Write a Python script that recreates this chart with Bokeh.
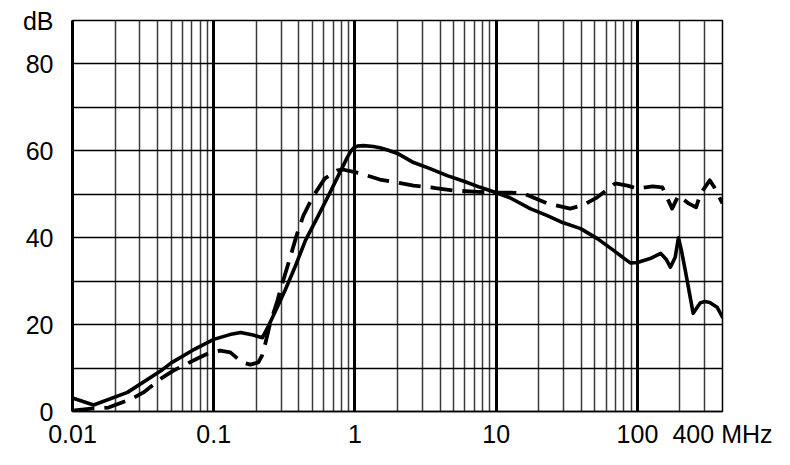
from bokeh.plotting import figure
from bokeh.models import FixedTicker, Grid, CustomJSTickFormatter, Range1d
from bokeh.embed import file_html
from bokeh.resources import INLINE

# ---- data ----
solid_f = [0.01, 0.0141, 0.0245, 0.042, 0.05, 0.07, 0.1, 0.13, 0.155, 0.19, 0.221,
           0.245, 0.28, 0.32, 0.38, 0.446, 0.542, 0.649, 0.762, 0.883, 0.93, 0.98, 1.04, 1.15, 1.35,
           1.5, 1.7, 2.0, 2.6, 3.4, 4.5, 5.9, 7.7, 9.9, 12.5, 17.4, 23, 29.5, 39.6, 52,
           67, 80, 89, 100, 123, 146, 160, 171, 185, 195, 205, 218, 248, 265, 278, 300, 325, 366, 400]
solid_db = [3.1, 1.5, 4.4, 9.3, 11.2, 14.0, 16.6, 17.7, 18.2, 17.6, 17.0,
            19.8, 23.8, 27.9, 33.6, 39.4, 44.7, 49.7, 54.3, 58.5, 59.8, 60.7, 61.1, 61.2, 61.0,
            60.7, 60.2, 59.4, 57.3, 55.9, 54.3, 53.0, 51.6, 50.4, 49.2, 46.7, 45.1, 43.5, 42.1, 39.8,
            37.2, 35.3, 34.2, 34.3, 35.2, 36.4, 35.0, 33.2, 35.5, 40.0, 37.0, 32.5, 22.6, 24.0, 25.0, 25.3, 25.1, 24.0, 21.7]

dash_f = [0.01, 0.0141, 0.018, 0.0266, 0.0318, 0.0433, 0.0518, 0.0766, 0.0917, 0.111,
          0.131, 0.159, 0.182, 0.207, 0.22, 0.232, 0.251, 0.283, 0.296, 0.337, 0.39,
          0.43, 0.50, 0.61, 0.75, 0.82, 1.09, 1.5, 2.0, 2.6, 3.6, 4.9, 6.9, 9.6, 12.5,
          15.6, 23, 33.4, 41.3, 51.9, 69.6, 85, 100, 128, 150, 176, 195, 230, 260, 280,
          325, 350, 400]
dash_db = [0.2, 0.7, 0.9, 3.0, 4.4, 7.8, 9.4, 12.2, 13.4, 14.0,
           13.6, 11.3, 10.8, 11.3, 12.9, 15.7, 20.3, 25.6, 27.9, 34.0, 41.0,
           45.0, 49.3, 53.6, 55.5, 55.7, 54.8, 53.4, 52.7, 52.0, 51.5, 50.9, 50.6, 50.4, 50.4,
           50.2, 47.9, 46.7, 47.5, 49.3, 52.5, 52.0, 51.3, 51.8, 51.6, 46.7, 49.7, 47.9, 47.0, 50.2,
           53.2, 51.6, 47.9]

x_ticks = [0.01, 0.1, 1, 10, 100, 400]
x_tick_labels = ["0.01", "0.1", "1", "10", "100", "400 MHz"]
y_ticks = [0, 20, 40, 60, 80, 90]
y_tick_labels = ["0", "20", "40", "60", "80", "dB"]
x_major_grid = [0.1, 1, 10, 100]
x_minor_grid = [m * d for d in (0.01, 0.1, 1, 10) for m in range(2, 10)] + [200, 300, 400]
y_grid = [10, 20, 30, 40, 50, 60, 70, 80, 90]

FONT = "Liberation Sans"

p = figure(width=790, height=465, x_axis_type="log",
           x_range=Range1d(0.01, 400), y_range=Range1d(0, 90),
           output_backend="svg", toolbar_location=None,
           min_border_left=72, min_border_right=68, min_border_top=20, min_border_bottom=54)
p.outline_line_color = "black"
p.outline_line_width = 1.5
p.xgrid.visible = False
p.ygrid.visible = False
p.background_fill_color = "white"
p.border_fill_color = "white"

p.add_layout(Grid(dimension=0, ticker=FixedTicker(ticks=x_minor_grid),
                  grid_line_color="#3a3a3a", grid_line_width=1.5))
p.add_layout(Grid(dimension=0, ticker=FixedTicker(ticks=x_major_grid),
                  grid_line_color="black", grid_line_width=3))
p.add_layout(Grid(dimension=1, ticker=FixedTicker(ticks=y_grid),
                  grid_line_color="black", grid_line_width=1.5))

fmt_code = """
for (let i = 0; i < tvals.length; i++) {
  if (Math.abs(tvals[i] - tick) <= 1e-6 * Math.abs(tvals[i]) + 1e-12) return tlabels[i];
}
return '';
"""
p.xaxis.ticker = FixedTicker(ticks=x_ticks)
p.xaxis.formatter = CustomJSTickFormatter(args=dict(tvals=x_ticks, tlabels=x_tick_labels), code=fmt_code)
p.yaxis.ticker = FixedTicker(ticks=y_ticks)
p.yaxis.formatter = CustomJSTickFormatter(args=dict(tvals=y_ticks, tlabels=y_tick_labels), code=fmt_code)

for ax in (p.xaxis[0], p.yaxis[0]):
    ax.major_tick_line_color = None
    ax.minor_tick_line_color = None
    ax.axis_line_color = "black"
    ax.major_label_text_font = FONT
    ax.major_label_text_font_size = "25px"
    ax.major_label_text_color = "black"
p.yaxis.axis_line_width = 3
p.xaxis.axis_line_width = 1.5
p.yaxis.major_label_standoff = 13
p.xaxis.major_label_standoff = 2

p.line(solid_f, solid_db, line_color="black", line_width=3.6, line_join="round", line_cap="round")
p.line(dash_f, dash_db, line_color="black", line_width=3.8, line_dash="22 10",
       line_join="round", line_cap="butt")

open("out.html", "w").write(file_html(p, INLINE))
